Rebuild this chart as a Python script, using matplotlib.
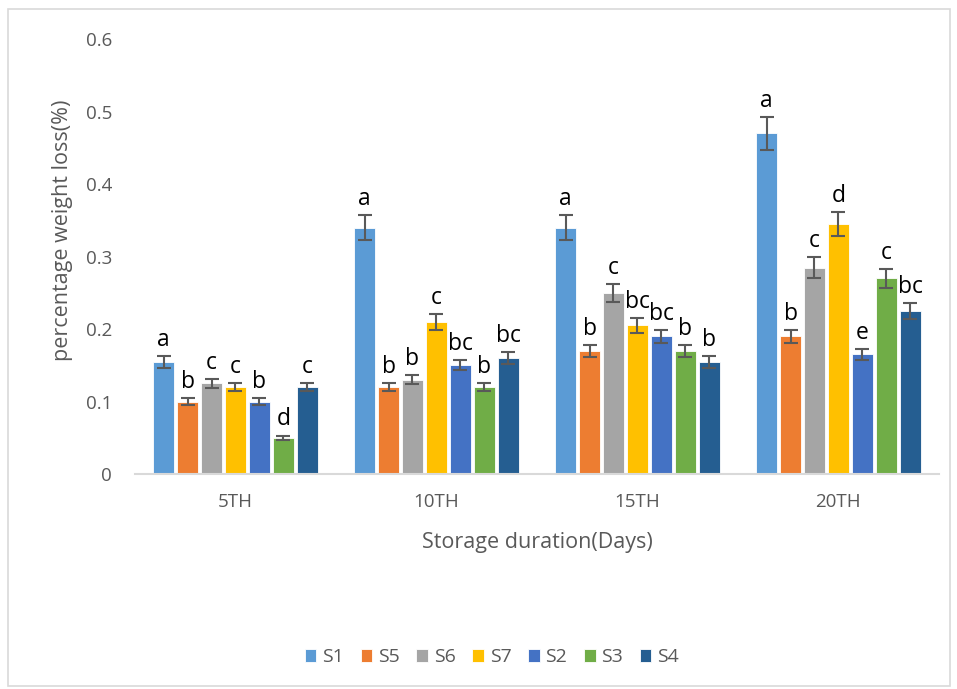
import numpy as np
import matplotlib.pyplot as plt
from matplotlib.patches import Rectangle

plt.rcParams['font.family'] = ['Open Sans', 'DejaVu Sans']

# storage days on the x axis
days = ["5TH", "10TH", "15TH", "20TH"]
series = ["S1", "S5", "S6", "S7", "S2", "S3", "S4"]
colors = ["#5B9BD5", "#ED7D31", "#A5A5A5", "#FFC000", "#4472C4", "#70AD47", "#255E91"]

# mean weight loss per series (one value per day)
s1 = [0.155, 0.34, 0.34, 0.47]
s5 = [0.10, 0.12, 0.17, 0.19]
s6 = [0.125, 0.13, 0.25, 0.285]
s7 = [0.12, 0.21, 0.205, 0.345]
s2 = [0.10, 0.15, 0.19, 0.165]
s3 = [0.05, 0.12, 0.17, 0.27]
s4 = [0.12, 0.16, 0.155, 0.225]

# error bar half-widths
e1 = [0.008, 0.017, 0.017, 0.023]
e5 = [0.005, 0.006, 0.008, 0.009]
e6 = [0.006, 0.006, 0.012, 0.014]
e7 = [0.006, 0.011, 0.010, 0.017]
e2 = [0.005, 0.007, 0.009, 0.008]
e3 = [0.003, 0.006, 0.008, 0.013]
e4 = [0.006, 0.008, 0.008, 0.011]

# significance letters
l1 = ["a", "a", "a", "a"]
l5 = ["b", "b", "b", "b"]
l6 = ["c", "b", "c", "c"]
l7 = ["c", "c", "bc", "d"]
l2 = ["b", "bc", "bc", "e"]
l3 = ["d", "b", "b", "c"]
l4 = ["c", "bc", "b", "bc"]

values = [s1, s5, s6, s7, s2, s3, s4]
errors = [e1, e5, e6, e7, e2, e3, e4]
letters = [l1, l5, l6, l7, l2, l3, l4]

fig = plt.figure(figsize=(9.57, 6.89), dpi=100)
ax = fig.add_axes([0.141, 0.312, 0.840, 0.631])

x = np.arange(len(days))
slot = 0.119
width = 0.105
for i, (name, vals, errs, labs) in enumerate(zip(series, values, errors, letters)):
    pos = x + (i - 3) * slot
    ax.bar(pos, vals, width, color=colors[i], edgecolor="white", linewidth=0.6,
           label=name, zorder=2)
    ax.errorbar(pos, vals, yerr=errs, fmt="none", ecolor="#595959",
                elinewidth=1.5, capsize=5, capthick=1.5, zorder=3)
    for px, v, e, t in zip(pos, vals, errs, labs):
        ax.annotate(t, (px, v + e), xytext=(0, 3), textcoords="offset points",
                    ha="center", va="bottom", fontsize=16.5, color="black")

ax.set_xlim(-0.5, len(days) - 0.5)
ax.set_ylim(0, 0.6)
ax.set_xticks(x)
ax.set_xticklabels(days)
ax.set_yticks([0, 0.1, 0.2, 0.3, 0.4, 0.5, 0.6])
ax.set_yticklabels(["0", "0.1", "0.2", "0.3", "0.4", "0.5", "0.6"])
ax.tick_params(axis="both", length=0, labelsize=13.5, colors="#595959")
ax.tick_params(axis="y", pad=16.5)
ax.tick_params(axis="x", pad=14)
for s in ["top", "right", "left"]:
    ax.spines[s].set_visible(False)
ax.spines["bottom"].set_color("#d9d9d9")
ax.spines["bottom"].set_linewidth(1.5)

ax.set_xlabel("Storage duration(Days)", fontsize=15.5, color="#595959")
ax.set_ylabel("percentage weight loss(%)", fontsize=15.5, color="#595959")
ax.xaxis.set_label_coords(0.5, -0.133)
ax.yaxis.set_label_coords(-0.077, 0.56)

fig.legend(loc="center", bbox_to_anchor=(0.514, 0.046), ncol=7, frameon=False,
           fontsize=14, labelcolor="#595959", handlelength=0.6, handleheight=0.6,
           handletextpad=0.3, columnspacing=0.85)

fig.patches.append(Rectangle((0.008, 0.005), 0.985, 0.982, transform=fig.transFigure,
                             fill=False, edgecolor="#d9d9d9", linewidth=1.2))

fig.savefig("out.png", dpi=100)
